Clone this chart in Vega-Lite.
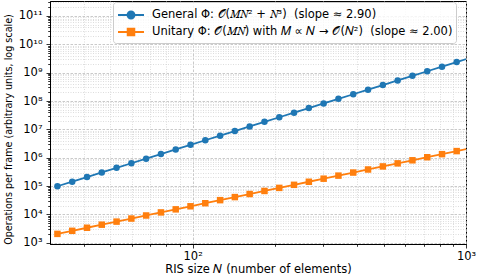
{
  "$schema": "https://vega.github.io/schema/vega-lite/v6.json",
  "width": 416,
  "height": 243,
  "autosize": {"type": "none"},
  "padding": {"left": 50, "top": 1, "right": 13, "bottom": 31},
  "background": "white",
  "config": {
    "font": "DejaVu Sans",
    "view": {"stroke": "#000000", "strokeWidth": 1},
    "axis": {
      "domainColor": "#000000",
      "domainWidth": 1,
      "tickColor": "#000000",
      "tickWidth": 0.8,
      "labelColor": "#000000",
      "labelFont": "DejaVu Sans",
      "labelFontSize": 11.5,
      "labelOverlap": false,
      "titleFont": "DejaVu Sans",
      "titleFontWeight": "normal",
      "titleColor": "#000000",
      "grid": true,
      "gridWidth": 0.8
    }
  },
  "data": {
    "values": [
      {"N": 32, "ops": 98304, "series": "general"},
      {"N": 36.25, "ops": 142840, "series": "general"},
      {"N": 41.06, "ops": 207570, "series": "general"},
      {"N": 46.49, "ops": 301630, "series": "general"},
      {"N": 52.67, "ops": 438310, "series": "general"},
      {"N": 59.66, "ops": 636900, "series": "general"},
      {"N": 67.57, "ops": 925500, "series": "general"},
      {"N": 76.53, "ops": 1344900, "series": "general"},
      {"N": 86.68, "ops": 1954200, "series": "general"},
      {"N": 98.19, "ops": 2839700, "series": "general"},
      {"N": 111.2, "ops": 4126400, "series": "general"},
      {"N": 126.0, "ops": 5996200, "series": "general"},
      {"N": 142.65, "ops": 8713000, "series": "general"},
      {"N": 161.6, "ops": 12661000, "series": "general"},
      {"N": 183.1, "ops": 18397000, "series": "general"},
      {"N": 207.4, "ops": 26735000, "series": "general"},
      {"N": 234.9, "ops": 38848000, "series": "general"},
      {"N": 266.1, "ops": 56450000, "series": "general"},
      {"N": 301.4, "ops": 82030000, "series": "general"},
      {"N": 341.4, "ops": 119190000, "series": "general"},
      {"N": 386.8, "ops": 173200000, "series": "general"},
      {"N": 438.1, "ops": 251690000, "series": "general"},
      {"N": 496.3, "ops": 365740000, "series": "general"},
      {"N": 562.2, "ops": 531470000, "series": "general"},
      {"N": 636.8, "ops": 772240000, "series": "general"},
      {"N": 721.4, "ops": 1122200000, "series": "general"},
      {"N": 817.1, "ops": 1630700000, "series": "general"},
      {"N": 924.4, "ops": 2369500000, "series": "general"},
      {"N": 1047, "ops": 3443300000, "series": "general"},
      {"N": 32, "ops": 2048, "series": "unitary"},
      {"N": 36.25, "ops": 2627.5, "series": "unitary"},
      {"N": 41.06, "ops": 3370.7, "series": "unitary"},
      {"N": 46.49, "ops": 4324.5, "series": "unitary"},
      {"N": 52.67, "ops": 5547.9, "series": "unitary"},
      {"N": 59.66, "ops": 7116.3, "series": "unitary"},
      {"N": 67.57, "ops": 9129.6, "series": "unitary"},
      {"N": 76.53, "ops": 11717, "series": "unitary"},
      {"N": 86.68, "ops": 15030, "series": "unitary"},
      {"N": 98.19, "ops": 19282, "series": "unitary"},
      {"N": 111.2, "ops": 24737, "series": "unitary"},
      {"N": 126.0, "ops": 31734, "series": "unitary"},
      {"N": 142.65, "ops": 40712, "series": "unitary"},
      {"N": 161.6, "ops": 52231, "series": "unitary"},
      {"N": 183.1, "ops": 67003, "series": "unitary"},
      {"N": 207.4, "ops": 85975, "series": "unitary"},
      {"N": 234.9, "ops": 110280, "series": "unitary"},
      {"N": 266.1, "ops": 141480, "series": "unitary"},
      {"N": 301.4, "ops": 181520, "series": "unitary"},
      {"N": 341.4, "ops": 232880, "series": "unitary"},
      {"N": 386.8, "ops": 298770, "series": "unitary"},
      {"N": 438.1, "ops": 383290, "series": "unitary"},
      {"N": 496.3, "ops": 491730, "series": "unitary"},
      {"N": 562.2, "ops": 630910, "series": "unitary"},
      {"N": 636.8, "ops": 809340, "series": "unitary"},
      {"N": 721.4, "ops": 1038300, "series": "unitary"},
      {"N": 817.1, "ops": 1332200, "series": "unitary"},
      {"N": 924.4, "ops": 1708900, "series": "unitary"},
      {"N": 1047, "ops": 2192900, "series": "unitary"}
    ]
  },
  "encoding": {
    "x": {
      "field": "N",
      "type": "quantitative",
      "scale": {"type": "log", "domain": [30.06, 1000]},
      "axis": {
        "values": [40, 50, 60, 70, 80, 90, 100, 200, 300, 400, 500, 600, 700, 800, 900, 1000],
        "labelExpr": "abs(log(datum.value)/LN10 - round(log(datum.value)/LN10)) < 1e-6 ? '10' + ['⁰','¹','²','³','⁴','⁵','⁶','⁷','⁸','⁹','¹⁰','¹¹'][round(log(datum.value)/LN10)] : ''",
        "labelFlush": false,
        "labelPadding": 2,
        "tickSize": {"condition": {"test": "abs(log(datum.value)/LN10 - round(log(datum.value)/LN10)) < 1e-6", "value": 4}, "value": 2.3},
        "gridDash": {"condition": {"test": "abs(log(datum.value)/LN10 - round(log(datum.value)/LN10)) < 1e-6", "value": [2.5, 1.5]}, "value": [1, 1.5]},
        "gridColor": {"condition": {"test": "abs(log(datum.value)/LN10 - round(log(datum.value)/LN10)) < 1e-6", "value": "#bdbdbd"}, "value": "#d4d4d4"},
        "title": "RIS size 𝑁 (number of elements)",
        "titleFontSize": 11.5,
        "titleBaseline": "alphabetic",
        "titleY": 28
      }
    },
    "y": {
      "field": "ops",
      "type": "quantitative",
      "scale": {"type": "log", "domain": [900, 338000000000]},
      "axis": {
        "values": [1e3, 2e3, 3e3, 4e3, 5e3, 6e3, 7e3, 8e3, 9e3, 1e4, 2e4, 3e4, 4e4, 5e4, 6e4, 7e4, 8e4, 9e4, 1e5, 2e5, 3e5, 4e5, 5e5, 6e5, 7e5, 8e5, 9e5, 1e6, 2e6, 3e6, 4e6, 5e6, 6e6, 7e6, 8e6, 9e6, 1e7, 2e7, 3e7, 4e7, 5e7, 6e7, 7e7, 8e7, 9e7, 1e8, 2e8, 3e8, 4e8, 5e8, 6e8, 7e8, 8e8, 9e8, 1e9, 2e9, 3e9, 4e9, 5e9, 6e9, 7e9, 8e9, 9e9, 1e10, 2e10, 3e10, 4e10, 5e10, 6e10, 7e10, 8e10, 9e10, 1e11, 2e11, 3e11],
        "labelExpr": "abs(log(datum.value)/LN10 - round(log(datum.value)/LN10)) < 1e-6 ? '10' + ['⁰','¹','²','³','⁴','⁵','⁶','⁷','⁸','⁹','¹⁰','¹¹'][round(log(datum.value)/LN10)] : ''",
        "labelPadding": 4,
        "tickSize": {"condition": {"test": "abs(log(datum.value)/LN10 - round(log(datum.value)/LN10)) < 1e-6", "value": 4}, "value": 2.3},
        "gridDash": {"condition": {"test": "abs(log(datum.value)/LN10 - round(log(datum.value)/LN10)) < 1e-6", "value": [2.5, 1.5]}, "value": [1, 1.5]},
        "gridColor": {"condition": {"test": "abs(log(datum.value)/LN10 - round(log(datum.value)/LN10)) < 1e-6", "value": "#bdbdbd"}, "value": "#d4d4d4"},
        "title": "Operations per frame (arbitrary units, log scale)",
        "titleFontSize": 9.6,
        "titleAngle": -90,
        "titleAlign": "center",
        "titleBaseline": "middle",
        "titleX": -42,
        "titleY": 128
      }
    },
    "color": {
      "field": "series",
      "type": "nominal",
      "scale": {"domain": ["general", "unitary"], "range": ["#1f77b4", "#ff7f0e"]},
      "legend": {
        "title": null,
        "orient": "none",
        "legendX": 63,
        "legendY": 1,
        "labelExpr": "datum.value === 'general' ? 'General Φ: 𝒪(𝑀𝑁² + 𝑁³) \u00a0(slope ≈ 2.90)' : 'Unitary Φ: 𝒪(𝑀𝑁) with 𝑀 ∝ 𝑁 → 𝒪(𝑁²) \u00a0(slope ≈ 2.00)'",
        "labelFont": "DejaVu Sans",
        "labelFontSize": 11.5,
        "labelColor": "#000000",
        "labelLimit": 500,
        "labelOffset": 17,
        "symbolType": "M-1,0L2.25,0M0.185,0A0.44,0.44,0,1,0,1.065,0A0.44,0.44,0,1,0,0.185,0Z",
        "symbolSize": 256,
        "symbolStrokeWidth": 1.8,
        "rowPadding": 0,
        "padding": 4,
        "strokeColor": "#cccccc",
        "fillColor": "rgba(255,255,255,0.8)",
        "cornerRadius": 3,
        "encode": {
          "symbols": {
            "update": {
              "shape": {"signal": "datum.index === 0 ? 'M-1,0L2.25,0M0.185,0A0.44,0.44,0,1,0,1.065,0A0.44,0.44,0,1,0,0.185,0Z' : 'M-1,0L2.25,0M0.205,-0.42L1.045,-0.42L1.045,0.42L0.205,0.42Z'"},
              "fill": {"scale": "color", "field": "value"},
              "stroke": {"scale": "color", "field": "value"},
              "strokeWidth": {"value": 1.8},
              "opacity": {"value": 1},
              "fillOpacity": {"value": 1}
            }
          }
        }
      }
    }
  },
  "layer": [
    {
      "mark": {"type": "line", "clip": true, "strokeWidth": 1.8}
    },
    {
      "transform": [{"filter": "datum.series === 'general'"}],
      "mark": {"type": "point", "shape": "circle", "clip": true, "filled": true, "opacity": 1, "size": 42}
    },
    {
      "transform": [{"filter": "datum.series === 'unitary'"}],
      "mark": {"type": "point", "shape": "square", "clip": true, "filled": true, "opacity": 1, "size": 42}
    }
  ]
}
